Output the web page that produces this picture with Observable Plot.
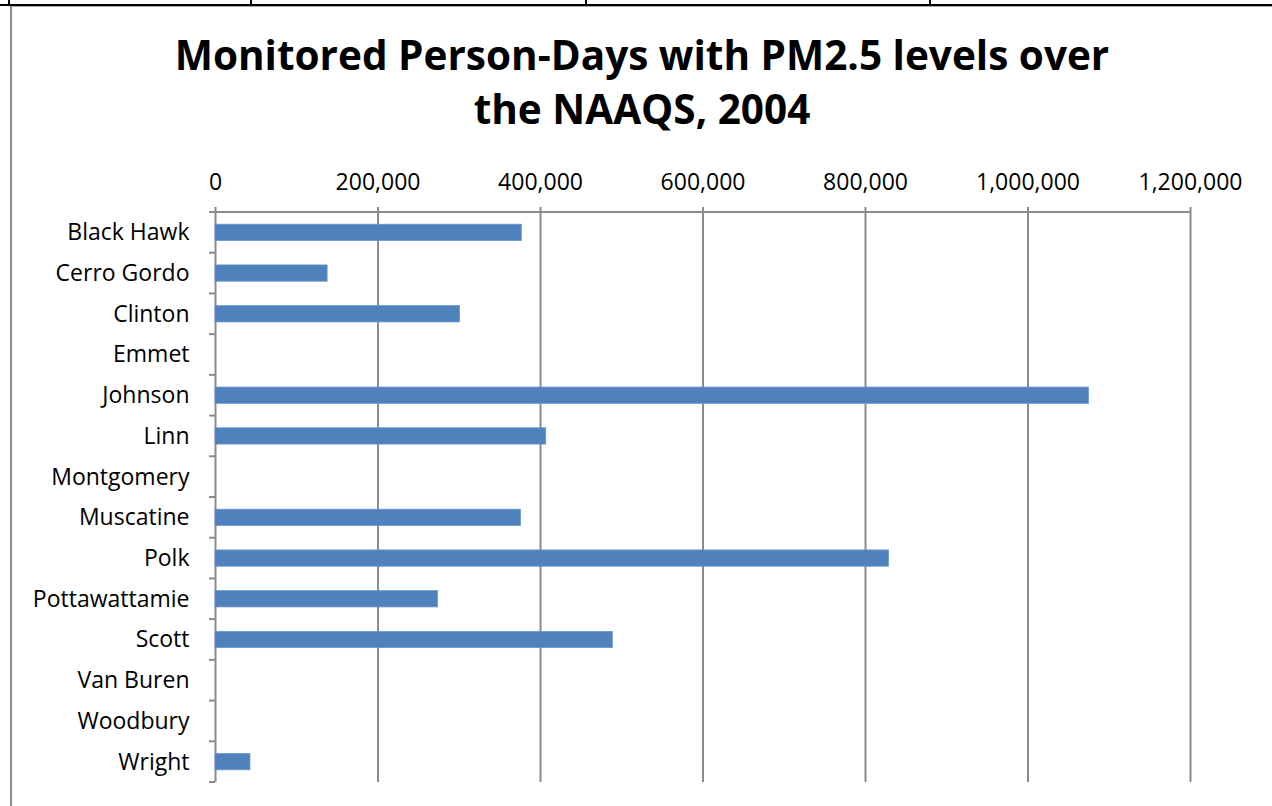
<!DOCTYPE html>
<html>
<head>
<meta charset="utf-8">
<script src="https://cdn.jsdelivr.net/npm/d3@7"></script>
<script src="https://cdn.jsdelivr.net/npm/@observablehq/plot@0.6"></script>
<style>
  html, body { margin: 0; padding: 0; background: #fff; }
  body { width: 1272px; height: 806px; position: relative; overflow: hidden; font-family: "Open Sans", sans-serif; }
  .blk { position: absolute; background: #000; }
  .gry { position: absolute; background: #8c8c8c; }
  #title { position: absolute; left: 0; top: 28px; width: 1284px; text-align: center; font-weight: bold; font-size: 40.5px; line-height: 54px; color: #000; white-space: nowrap; }
  #chart { position: absolute; left: 0; top: 140px; }
</style>
</head>
<body>
<div class="blk" style="left:0;top:4px;width:1272px;height:2px"></div>
<div class="blk" style="left:8px;top:0;width:2px;height:5px"></div>
<div class="blk" style="left:250px;top:0;width:2px;height:5px"></div>
<div class="blk" style="left:585px;top:0;width:2px;height:5px"></div>
<div class="blk" style="left:929px;top:0;width:2px;height:5px"></div>
<div class="gry" style="left:10px;top:6px;width:1262px;height:1px;background:#aaa"></div>
<div class="gry" style="left:10px;top:6px;width:2px;height:800px"></div>
<div id="title">Monitored Person-Days with PM2.5 levels over<br>the NAAQS, 2004</div>
<div id="chart"></div>
<script>
const counties = ["Black Hawk", "Cerro Gordo", "Clinton", "Emmet", "Johnson", "Linn", "Montgomery", "Muscatine", "Polk", "Pottawattamie", "Scott", "Van Buren", "Woodbury", "Wright"];
const personDays = [377000, 138000, 301000, 0, 1075000, 407000, 0, 376000, 829000, 274000, 489000, 0, 0, 43000];
const xTicks = [0, 200000, 400000, 600000, 800000, 1000000, 1200000];

const data = counties.map((c, i) => ({county: c, value: personDays[i]}));
const gridColor = "#8c8c8c";

function frameLines(index, scales, values, dims) {
  const g = d3.create("svg:g").attr("stroke", gridColor).attr("stroke-width", 2);
  const x0 = scales.x(xTicks[0]);
  const x1 = scales.x(xTicks[xTicks.length - 1]);
  const top = dims.marginTop;
  const H = dims.height - dims.marginTop - dims.marginBottom;
  const n = counties.length;
  g.append("line").attr("x1", x0).attr("x2", x1).attr("y1", top).attr("y2", top);
  for (let i = 0; i <= n; i++) {
    const y = top + i * H / n;
    g.append("line").attr("x1", x0 - 6).attr("x2", x0).attr("y1", y).attr("y2", y);
  }
  return g.node();
}

const chart = Plot.plot({
  width: 1272,
  height: 666,
  marginTop: 72,
  marginBottom: 24,
  marginLeft: 215,
  marginRight: 82,
  style: {fontFamily: "'Open Sans', sans-serif", fontSize: "23px", color: "#000", background: "transparent"},
  x: {domain: [0, 1200000], axis: null},
  y: {domain: counties, paddingInner: 0.6, paddingOuter: 0.3, round: false, axis: null},
  marks: [
    Plot.gridX(xTicks, {stroke: gridColor, strokeOpacity: 1, strokeWidth: 2}),
    Plot.barX(data, {x: "value", y: "county", fill: "#4f81bd", stroke: "#6a96cc", strokeWidth: 0.8}),
    frameLines,
    Plot.axisX(xTicks, {anchor: "top", tickSize: 6, tickPadding: 17, stroke: gridColor, strokeWidth: 2, fill: "#000", fontSize: 23, tickFormat: d3.format(","), label: null}),
    Plot.axisY({tickSize: 0, tickPadding: 26, fill: "#000", fontSize: 23, label: null})
  ]
});
document.getElementById("chart").appendChild(chart);
</script>
</body>
</html>
